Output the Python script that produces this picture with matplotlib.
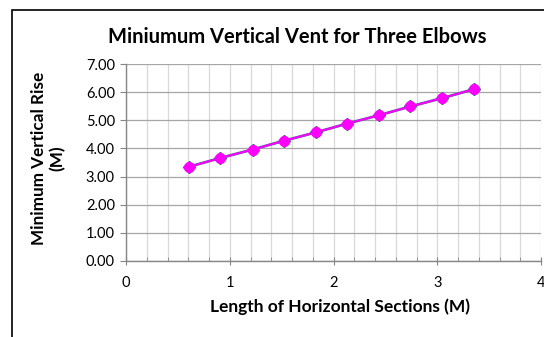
import matplotlib.pyplot as plt
from matplotlib.patches import Rectangle
from matplotlib.ticker import MultipleLocator

# comprimento horizontal (M) e subida vertical mínima (M)
comprimento = [0.61, 0.91, 1.22, 1.52, 1.83, 2.13, 2.44, 2.74, 3.05, 3.35]
subida = [3.35, 3.66, 3.96, 4.27, 4.57, 4.88, 5.18, 5.49, 5.79, 6.10]

plt.rcParams['font.family'] = ['Lato', 'DejaVu Sans']

fig = plt.figure(figsize=(5.44, 3.37), dpi=100)
ax = fig.add_axes([126/544, 1 - 261/337, (541 - 126)/544, (261 - 64)/337])

# moldura do gráfico
fig.patches.append(Rectangle((12/544, -0.1), 1.0, 1 - 10/337 + 0.1,
                             transform=fig.transFigure, fill=False,
                             edgecolor='black', linewidth=1.2))

ax.plot(comprimento, subida, color='#5b5fa0', linewidth=2.0, marker='D',
        markersize=6.5, markerfacecolor='#5b6a9c', markeredgecolor='#4a5590', zorder=3)
ax.plot(comprimento, subida, color='#ff00ff', linewidth=1.3, marker='o',
        markersize=7, markerfacecolor='#ff00ff', markeredgecolor='#ff00ff', zorder=4)

ax.set_xlim(0, 4)
ax.set_ylim(0, 7)
ax.xaxis.set_major_locator(MultipleLocator(1))
ax.xaxis.set_minor_locator(MultipleLocator(0.2))
ax.yaxis.set_major_locator(MultipleLocator(1))
ax.set_yticklabels([f'{v:.2f}' for v in ax.get_yticks()])

ax.grid(which='minor', axis='x', color='#d9d9d9', linewidth=0.9)
ax.grid(which='major', axis='x', color='#d9d9d9', linewidth=0.9)
ax.grid(which='major', axis='y', color='#a6a6a6', linewidth=0.9)
ax.set_axisbelow(True)

for s in ['top', 'right']:
    ax.spines[s].set_visible(False)
for s in ['left', 'bottom']:
    ax.spines[s].set_color('#868686')
    ax.spines[s].set_linewidth(1.0)

ax.tick_params(axis='y', which='major', direction='out', length=4, color='#868686',
               labelsize=10.5, pad=4)
ax.tick_params(axis='x', which='major', direction='inout', length=6, color='#868686',
               labelsize=10.5, pad=8)
ax.tick_params(axis='x', which='minor', direction='in', length=3, color='#868686')

fig.text(297/544, 1 - 37/337, 'Miniumum Vertical Vent for Three Elbows',
         ha='center', va='center', fontsize=14.5, fontweight='bold')
fig.text(340/544, 1 - 307/337, 'Length of Horizontal Sections (M)',
         ha='center', va='center', fontsize=12.5, fontweight='bold')
fig.text(48/544, 1 - 158/337, 'Minimum Vertical Rise\n(M)', rotation=90,
         ha='center', va='center', fontsize=12.3, fontweight='bold', linespacing=1.15)

fig.savefig('out.png', dpi=100)
